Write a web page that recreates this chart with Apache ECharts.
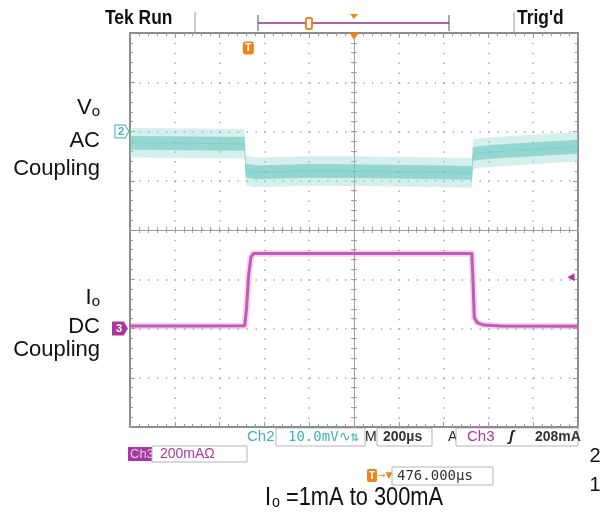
<!DOCTYPE html>
<html>
<head>
<meta charset="utf-8">
<script src="https://cdn.jsdelivr.net/npm/echarts@6/dist/echarts.min.js"></script>
<style>
  html, body { margin: 0; padding: 0; background: #fff; }
  #scope { width: 601px; height: 515px; }
</style>
</head>
<body>
<div id="scope"></div>
<script>
// time base: 200us/div, 10 div on screen
var timeMin = 0, timeMax = 2000, timeDiv = 200;
var screenCenterUs = 1000, triggerDelayUs = 476;
var triggerUs = screenCenterUs - triggerDelayUs;

// Ch2: Vo, AC coupled, 10mV/div, ground 2 div above centre
var ch2Min = -60, ch2Max = 20, ch2Div = 10;
var ch2Time = [0, 250, 512, 516, 560, 800, 1100, 1400, 1527, 1531, 1570, 1700, 1850, 2000];
var ch2mV = [-2.3, -2.4, -2.5, -7.9, -8.3, -8.0, -8.1, -8.3, -8.4, -4.6, -4.3, -3.9, -3.5, -3.1];

// Ch3: Io, DC coupled, 200mA/div, ground 2 div below centre
var ch3Min = -400, ch3Max = 1200, ch3Div = 200;
var ch3Time = [0, 300, 512, 520, 530, 540, 552, 800, 1200, 1526, 1531, 1537, 1550, 1580, 1650, 2000];
var ch3mA = [10, 10, 11, 80, 220, 290, 305, 305, 305, 305, 200, 45, 24, 14, 10, 9];
var trigLevelmA = 208;

var cyan = '#3fb3b0';
var magenta = '#a8389f';
var orange = '#f0821e';
var gridBox = { left: 130, top: 33, width: 448, height: 394 };

// display-only thickness of the noise on ch2 (mV either side)
var noiseCore = 1.4, noiseFuzz = 3.0;

function pairs(xs, ys) {
    return xs.map(function (x, i) { return [x, ys[i]]; });
}

var noLabel = { show: false };
var borderLine = { show: true, onZero: false, lineStyle: { color: '#8c8c8c', width: 2 } };
var borderTick = { show: true, inside: true, length: 5, lineStyle: { color: '#9a9a9a' } };
var borderMinor = { show: true, splitNumber: 5, length: 3, lineStyle: { color: '#9a9a9a' } };

function crossAxis(grid, inside, lo, hi) {
    return {
        type: 'value', gridIndex: grid, min: lo, max: hi, interval: 1,
        axisLine: { show: true, onZero: true, lineStyle: { color: '#a0a0a0', width: 1 } },
        axisTick: { show: true, inside: inside, length: 3, lineStyle: { color: '#a0a0a0' } },
        minorTick: { show: true, splitNumber: 5, length: 3, lineStyle: { color: '#a0a0a0' } },
        axisLabel: noLabel, splitLine: { show: false }
    };
}

function txt(x, y, text, font, fill, align, sx) {
    return { type: 'text', x: x, y: y, scaleX: sx || 1, silent: true,
        style: { text: text, font: font, fill: fill, align: align || 'left', verticalAlign: 'middle' } };
}
function box(x, y, w, h) {
    return { type: 'rect', shape: { x: x, y: y, width: w, height: h }, silent: true,
        style: { fill: '#fff', stroke: '#b5b5b5', lineWidth: 1 } };
}
function vline(x, y1, y2, color, w) {
    return { type: 'line', shape: { x1: x, y1: y1, x2: x, y2: y2 }, silent: true,
        style: { stroke: color, lineWidth: w || 1 } };
}

// ch2 noise band drawn as one polygon around the trace
function bandPoints(api, half) {
    var up = [], down = [];
    for (var i = 0; i < ch2Time.length; i++) {
        up.push(api.coord([ch2Time[i], ch2mV[i] + half]));
        down.unshift(api.coord([ch2Time[i], ch2mV[i] - half]));
    }
    return up.concat(down);
}

var labelFont = '22px "Liberation Sans", Arial, sans-serif';
var readFont = '14px "DejaVu Sans Mono", monospace';
var headFont = 'bold 21px "Liberation Sans", Arial, sans-serif';

var myChart = echarts.init(document.getElementById('scope'));
var option = {
    animation: false,
    backgroundColor: '#ffffff',
    grid: [
        Object.assign({}, gridBox),
        Object.assign({}, gridBox),
        Object.assign({}, gridBox)
    ],
    xAxis: [{
        type: 'value', gridIndex: 0, min: timeMin, max: timeMax, interval: timeDiv,
        axisLine: borderLine, axisTick: borderTick, minorTick: borderMinor, axisLabel: noLabel,
        splitLine: { show: true, lineStyle: { color: '#a8a8a8', width: 1.5, type: [1.5, 8.35] } }
    }, {
        type: 'value', gridIndex: 0, position: 'top', min: timeMin, max: timeMax, interval: timeDiv,
        axisLine: borderLine, axisTick: borderTick, minorTick: borderMinor, axisLabel: noLabel,
        splitLine: { show: false }
    },
        crossAxis(1, true, -5, 5),
        crossAxis(2, false, -5, 5)
    ],
    yAxis: [{
        type: 'value', gridIndex: 0, min: ch2Min, max: ch2Max, interval: ch2Div,
        axisLine: borderLine, axisTick: borderTick, minorTick: borderMinor, axisLabel: noLabel,
        splitLine: { show: true, lineStyle: { color: '#a8a8a8', width: 1.5, type: [1.5, 7.46] } }
    }, {
        type: 'value', gridIndex: 0, position: 'right', min: ch3Min, max: ch3Max, interval: ch3Div,
        axisLine: borderLine, axisTick: borderTick, minorTick: borderMinor, axisLabel: noLabel,
        splitLine: { show: false }
    },
        crossAxis(1, true, -4, 4),
        crossAxis(2, false, -4, 4)
    ],
    series: [{
        name: 'Vo band', type: 'custom', coordinateSystem: 'cartesian2d',
        xAxisIndex: 0, yAxisIndex: 0, silent: true,
        data: pairs(ch2Time, ch2mV),
        renderItem: function (params, api) {
            if (params.dataIndex !== 0) return null;
            return {
                type: 'group',
                children: [{
                    type: 'polygon', shape: { points: bandPoints(api, noiseFuzz) },
                    style: { fill: 'rgba(150,214,211,0.4)' }
                }, {
                    type: 'polygon', shape: { points: bandPoints(api, noiseCore) },
                    style: { fill: 'rgba(104,196,192,0.6)' }
                }]
            };
        }
    }, {
        name: 'Vo', type: 'line', xAxisIndex: 0, yAxisIndex: 0,
        data: pairs(ch2Time, ch2mV), symbol: 'none', silent: true, clip: false,
        lineStyle: { color: 'rgba(90,185,180,0.25)', width: 1 },
        markPoint: {
            silent: true,
            data: [{
                coord: [timeMin, 0], symbol: 'path://M0,0 L10,0 L14,6 L10,12 L0,12 Z',
                symbolSize: [14, 13], symbolOffset: [-8, 0],
                itemStyle: { color: '#fff', borderColor: cyan, borderWidth: 1 },
                label: { show: true, formatter: '2', color: cyan, fontSize: 11, fontWeight: 'bold', offset: [-1, 0] }
            }]
        }
    }, {
        name: 'Io halo', type: 'line', xAxisIndex: 0, yAxisIndex: 1,
        data: pairs(ch3Time, ch3mA), symbol: 'none', silent: true,
        lineStyle: { color: 'rgba(200,120,195,0.3)', width: 6.5, join: 'round' }
    }, {
        name: 'Io', type: 'line', xAxisIndex: 0, yAxisIndex: 1,
        data: pairs(ch3Time, ch3mA), symbol: 'none', silent: true, clip: false,
        lineStyle: { color: '#c25ab8', width: 3, join: 'round' },
        markPoint: {
            silent: true,
            data: [{
                coord: [timeMin, 0], symbol: 'path://M0,0 L11,0 L15,6 L11,12 L0,12 Z',
                symbolSize: [16, 14], symbolOffset: [-10, 0],
                itemStyle: { color: magenta },
                label: { show: true, formatter: '3', color: '#fff', fontSize: 11, fontWeight: 'bold', offset: [-1, 0] }
            }, {
                coord: [timeMax, trigLevelmA], symbol: 'triangle', symbolRotate: 90,
                symbolSize: [8, 7], symbolOffset: [-7, 0],
                itemStyle: { color: magenta }, label: { show: false }
            }, {
                coord: [triggerUs, ch3Max], symbol: 'roundRect',
                symbolSize: [11, 13], symbolOffset: [1, 15],
                itemStyle: { color: orange },
                label: { show: true, formatter: 'T', color: '#fff', fontSize: 10, fontWeight: 'bold' }
            }, {
                coord: [screenCenterUs, ch3Max], symbol: 'triangle', symbolRotate: 180,
                symbolSize: [10, 7], symbolOffset: [0, 3],
                itemStyle: { color: orange }, label: { show: false }
            }]
        }
    }],
    graphic: [
        // header
        txt(105, 18, 'Tek Run', headFont, '#111', 'left', 0.83),
        txt(517, 18, "Trig'd", headFont, '#111', 'left', 0.83),
        vline(195, 12, 32, '#9a9a9a'),
        vline(514, 12, 32, '#9a9a9a'),
        { type: 'line', silent: true, shape: { x1: 258, y1: 23, x2: 449, y2: 23 }, style: { stroke: '#b35bb0', lineWidth: 2 } },
        vline(258, 15, 31, '#555'),
        vline(449, 15, 31, '#555'),
        { type: 'rect', silent: true, shape: { x: 306, y: 18, width: 6, height: 11, r: 2 }, style: { fill: '#fff', stroke: orange, lineWidth: 2 } },
        { type: 'polygon', silent: true, shape: { points: [[350, 14], [358, 14], [354, 19]] }, style: { fill: orange } },

        // left channel labels
        { type: 'text', x: 100, y: 108, silent: true, style: {
            text: '{v|V}{s|o}', align: 'right', verticalAlign: 'middle',
            rich: { v: { font: labelFont, fill: '#111' }, s: { font: '15px "Liberation Sans", sans-serif', fill: '#111', padding: [8, 0, 0, 0] } } } },
        txt(100, 141, 'AC', labelFont, '#111', 'right'),
        txt(100, 169, 'Coupling', labelFont, '#111', 'right'),
        { type: 'text', x: 100, y: 298, silent: true, style: {
            text: '{v|I}{s|o}', align: 'right', verticalAlign: 'middle',
            rich: { v: { font: labelFont, fill: '#111' }, s: { font: '15px "Liberation Sans", sans-serif', fill: '#111', padding: [8, 0, 0, 0] } } } },
        txt(100, 327, 'DC', labelFont, '#111', 'right'),
        txt(100, 350, 'Coupling', labelFont, '#111', 'right'),

        // readouts row 1
        txt(247, 437, 'Ch2', '15px "Liberation Sans", sans-serif', cyan),
        box(276, 428, 89, 18),
        txt(288, 437, '10.0mV\u223F\u21C5', readFont, cyan),
        txt(365, 437, 'M', '14px "Liberation Sans", sans-serif', '#222'),
        box(377, 428, 55, 18),
        txt(383, 437, '200\u00B5s', 'bold 14px "Liberation Sans", sans-serif', '#333'),
        txt(448, 437, 'A', '14px "Liberation Sans", sans-serif', '#222'),
        box(456, 428, 122, 18),
        txt(467, 437, 'Ch3', '15px "Liberation Sans", sans-serif', magenta),
        txt(509, 437, '\u0283', 'italic bold 15px "Liberation Sans", sans-serif', '#222'),
        txt(535, 437, '208mA', 'bold 14px "Liberation Sans", sans-serif', '#333'),

        // readouts row 2
        { type: 'rect', silent: true, shape: { x: 128, y: 447, width: 24, height: 14 }, style: { fill: magenta } },
        txt(130, 454, 'Ch3', '13px "Liberation Sans", sans-serif', '#e8c8e6'),
        box(152, 446, 95, 16),
        txt(160, 454, '200mA\u03A9', '14px "Liberation Sans", sans-serif', magenta),

        // readouts row 3
        { type: 'rect', silent: true, shape: { x: 367, y: 469, width: 10, height: 13, r: 2 }, style: { fill: orange } },
        txt(372, 476, 'T', 'bold 10px "Liberation Sans", sans-serif', '#fff', 'center'),
        txt(378, 476, '\u2192\u25BC', '9px "DejaVu Sans", sans-serif', orange),
        box(392, 467, 101, 18),
        txt(397, 476, '476.000\u00B5s', readFont, '#333'),

        txt(595, 456, '2', '20px "Liberation Sans", sans-serif', '#111', 'center'),
        txt(595, 485, '1', '20px "Liberation Sans", sans-serif', '#111', 'center'),

        // caption
        { type: 'text', x: 265, y: 498, scaleX: 0.84, silent: true, style: {
            text: '{v|I}{s|o}{v| =1mA to 300mA}', verticalAlign: 'middle',
            rich: { v: { font: '26px "Liberation Sans", sans-serif', fill: '#111' },
                    s: { font: '17px "Liberation Sans", sans-serif', fill: '#111', padding: [9, 0, 0, 1] } } } }
    ]
};

myChart.setOption(option);
</script>
</body>
</html>
